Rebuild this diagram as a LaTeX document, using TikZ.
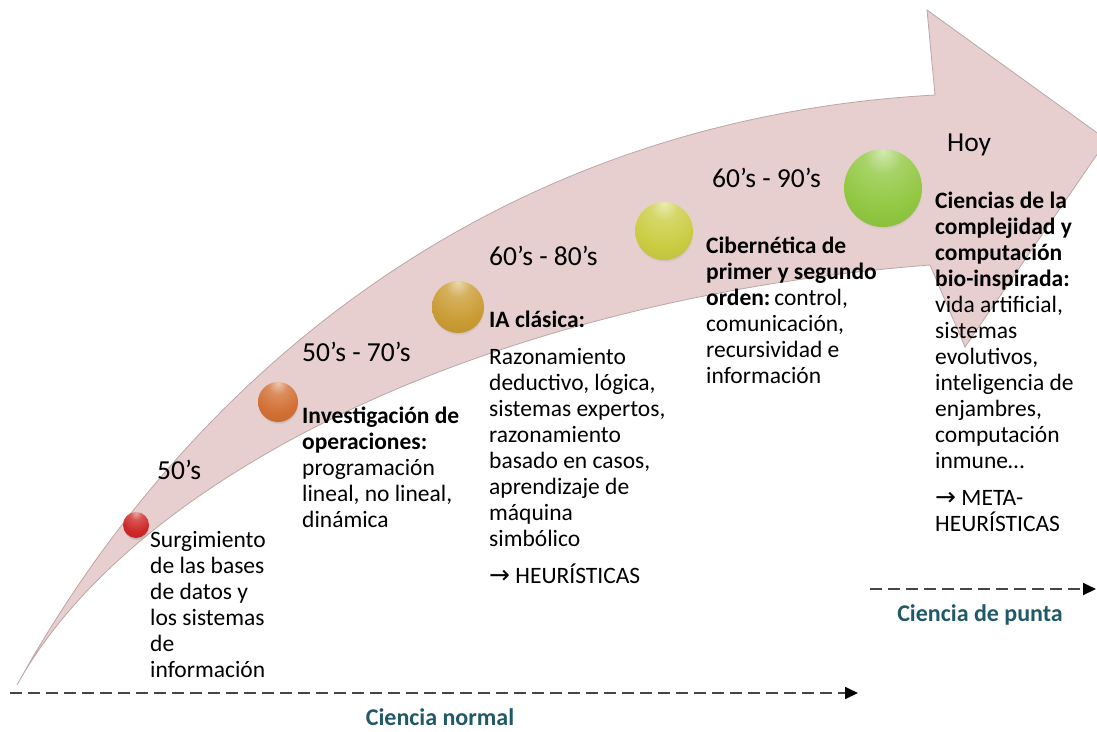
\documentclass[tikz,border=0pt]{standalone}
\usepackage{fontspec}
\setmainfont{Carlito}
\newfontfamily\symfont{DejaVu Sans}
\usetikzlibrary{arrows.meta,shadows}
\definecolor{pinkfill}{RGB}{232,207,207}
\definecolor{pinkline}{RGB}{190,165,165}
\definecolor{labteal}{RGB}{33,89,104}
\definecolor{dashgray}{RGB}{70,70,70}
\definecolor{cRed}{RGB}{205,40,40}
\definecolor{cOrange}{RGB}{210,112,52}
\definecolor{cGold}{RGB}{202,156,52}
\definecolor{cLime}{RGB}{202,205,66}
\definecolor{cGreen}{RGB}{146,200,66}
\colorlet{ballc}{red}
\pgfdeclareradialshading[ballc]{myball}{\pgfpoint{0bp}{24bp}}{color(0bp)=(ballc!40!white); color(12bp)=(ballc!80!white); color(30bp)=(ballc); color(55bp)=(ballc!88!black); color(74bp)=(ballc!58!black); color(100bp)=(ballc!58!black)}
\newcommand{\rarr}{{\symfont\fontsize{25}{26}\selectfont →}}
\tikzset{
  body/.style={anchor=base west, inner sep=0pt, font=\fontsize{23.5}{26}\selectfont},
  year/.style={anchor=base west, inner sep=0pt, font=\fontsize{27.5}{30}\selectfont},
  sphere/.style 2 args={circle, inner sep=0pt, minimum size=#2, /utils/exec={\colorlet{ballc}{#1}}, shading=myball,
    circular drop shadow={shadow xshift=0.5pt, shadow yshift=-2.5pt, opacity=0.3, shadow scale=1.0}},
  dasharrow/.style={draw=dashgray, line width=1.8pt, dash pattern=on 12pt off 6pt, -{Triangle[length=13pt,width=12pt,fill=black,color=black]}},
  bandlabel/.style={anchor=base, inner sep=0pt, text=labteal, font=\fontsize{24}{28}\selectfont\bfseries},
  band/.style={fill=pinkfill, draw=pinkline, line width=0.8pt, line join=miter}
}
\begin{document}
\begin{tikzpicture}[x=1pt,y=-1pt]
\useasboundingbox (0,0) rectangle (1097,731);
\begin{scope}
\clip (0,0) rectangle (1097,731);
% big curved arrow
\path[band] (17,685) .. controls (180,390) and (480,120) .. (935,95)
  -- (927,10) -- (1107,140) -- (965,347) -- (930,265)
  .. controls (480,300) and (130,480) .. (17,685) -- cycle;
\end{scope}

% spheres
\node[sphere={cRed}{26}] (s1) at (136,525) {};
\node[sphere={cOrange}{40}] (s2) at (278,402) {};
\node[sphere={cGold}{52}] (s3) at (458,307) {};
\node[sphere={cLime}{58}] (s4) at (664,231) {};
\node[sphere={cGreen}{78}] (s5) at (883,188) {};

% years
\node[year] (y1) at (157,479) {50’s};
\node[year] (y2) at (302,361) {50’s - 70’s};
\node[year] (y3) at (489,265) {60’s - 80’s};
\node[year] (y4) at (712,187) {60’s - 90’s};
\node[year] (y5) at (947,151) {Hoy};

% text blocks
\node[body] (t1) at (150,547) {\parbox[t]{160pt}{Surgimiento\\de las bases\\de datos y\\los sistemas\\de\\información}};
\node[body] (t2) at (302,423) {\parbox[t]{180pt}{\textbf{Investigación de}\\\textbf{operaciones:}\\programación\\lineal, no lineal,\\dinámica}};
\node[body] (t3) at (489,327) {\parbox[t]{200pt}{\textbf{IA clásica:}\\[11pt]Razonamiento\\deductivo, lógica,\\sistemas expertos,\\razonamiento\\basado en casos,\\aprendizaje de\\máquina\\simbólico\\[11pt]\rarr{} HEURÍSTICAS}};
\node[body] (t4) at (706,253) {\parbox[t]{200pt}{\textbf{Cibernética de}\\\textbf{primer y segundo}\\\textbf{orden:}\,control,\\comunicación,\\recursividad e\\información}};
\node[body] (t5) at (935,208) {\parbox[t]{160pt}{\textbf{Ciencias de la}\\\textbf{complejidad y}\\\textbf{computación}\\\textbf{bio-inspirada:}\\vida artificial,\\sistemas\\evolutivos,\\inteligencia de\\enjambres,\\computación\\inmune…\\[11pt]\rarr{} META-\\HEURÍSTICAS}};

% dashed arrows
\coordinate (a1) at (10,693);
\coordinate (a2) at (858,693);
\draw[dasharrow] (a1) -- (a2);
\coordinate (b1) at (870,589);
\coordinate (b2) at (1096,589);
\draw[dasharrow] (b1) -- (b2);

\node[bandlabel] (l1) at (440,725) {Ciencia normal};
\node[bandlabel] (l2) at (980,621) {Ciencia de punta};
\end{tikzpicture}
\end{document}
